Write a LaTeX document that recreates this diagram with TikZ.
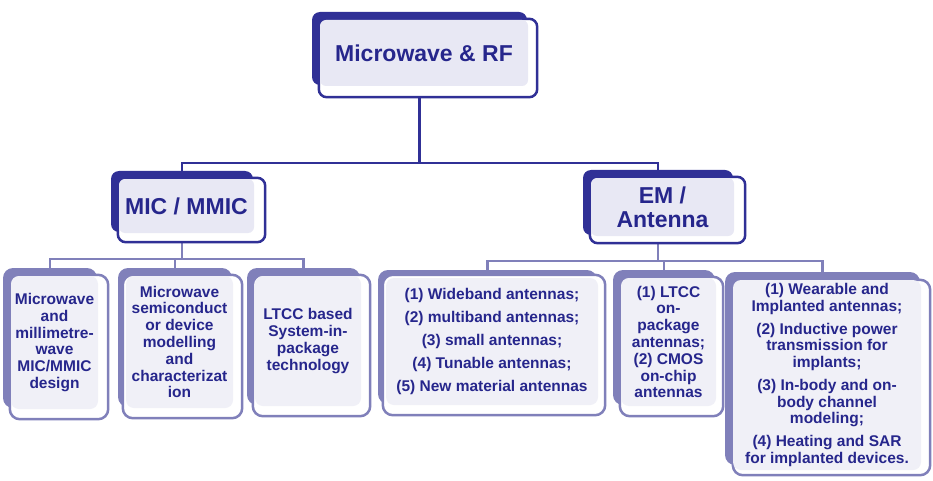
\documentclass[tikz,border=0pt]{standalone}
\usepackage{fontspec}
\setmainfont{Liberation Sans}
\usepackage{tikz}
\usetikzlibrary{backgrounds}
\definecolor{mwdark}{RGB}{48,48,150}
\definecolor{mwlight}{RGB}{128,128,186}
\definecolor{mwpale}{RGB}{232,232,244}
\definecolor{mwpaler}{RGB}{240,240,247}
\definecolor{mwtext}{RGB}{38,38,140}
\tikzstyle{topback} = [fill=mwdark, rounded corners=8pt, inner sep=0pt]
\tikzstyle{subback} = [fill=mwlight, rounded corners=10pt, inner sep=0pt]
\tikzstyle{topfront} = [draw=mwdark, line width=2.5pt, fill=white, rounded corners=8pt]
\tikzstyle{subfront} = [draw=mwlight, line width=2.5pt, fill=white, rounded corners=10pt]
\tikzstyle{toptext} = [fill=mwpale, rounded corners=6pt, inner sep=0pt, text=mwtext, align=center, font=\fontsize{23}{24}\selectfont\bfseries]
\tikzstyle{subtext} = [fill=mwpaler, rounded corners=8pt, inner sep=0pt, text=mwtext, align=center, font=\fontsize{15.5}{16.8}\selectfont\bfseries]
\tikzstyle{toplink} = [draw=mwdark, line width=2.5pt]
\tikzstyle{sublink} = [draw=mwlight, line width=2.5pt]

\begin{document}
\begin{tikzpicture}[x=1pt,y=-1pt]
\useasboundingbox (0,0) rectangle (933,481);

% top
\node[topback, minimum width=215pt, minimum height=73pt] (rf) at (419.5,48.5) {};
\draw[topfront] ([shift={(7,7)}]rf.north west) rectangle ([shift={(10,12)}]rf.south east);
\node[toptext, minimum width=208pt, minimum height=66pt] (rf-t) at ([shift={(4.5,4.5)}]rf.center) {Microwave \& RF};

% second level
\node[topback, minimum width=142pt, minimum height=61pt] (mic) at (182,201.5) {};
\draw[topfront] ([shift={(7,7)}]mic.north west) rectangle ([shift={(12,10)}]mic.south east);
\node[toptext, minimum width=135pt, minimum height=54pt] (mic-t) at ([shift={(4.5,4.5)}]mic.center) {MIC / MMIC};

\node[topback, minimum width=150pt, minimum height=65pt] (em) at (658,202.5) {};
\draw[topfront] ([shift={(7,7)}]em.north west) rectangle ([shift={(12,8)}]em.south east);
\node[toptext, minimum width=143pt, minimum height=58pt] (em-t) at ([shift={(4.5,4.5)}]em.center) {EM /\\Antenna};

% third level
\node[subback, minimum width=94pt, minimum height=140pt] (b1) at (50,338) {};
\draw[subfront] ([shift={(7,7)}]b1.north west) rectangle ([shift={(11,11)}]b1.south east);
\node[subtext, minimum width=87pt, minimum height=133pt] (b1-t) at ([shift={(4.5,4.5)}]b1.center)
  {Microwave\\and\\millimetre-\\wave\\MIC/MMIC\\design};

\node[subback, minimum width=114pt, minimum height=139pt] (b2) at (175,337.5) {};
\draw[subfront] ([shift={(5,7)}]b2.north west) rectangle ([shift={(10,11)}]b2.south east);
\node[subtext, minimum width=107pt, minimum height=132pt] (b2-t) at ([shift={(4.5,4.5)}]b2.center)
  {Microwave\\semiconduct\\or device\\modelling\\and\\characterizat\\ion};

\node[subback, minimum width=113pt, minimum height=137pt] (b3) at (303.5,336.5) {};
\draw[subfront] ([shift={(6,7)}]b3.north west) rectangle ([shift={(10,11)}]b3.south east);
\node[subtext, minimum width=106pt, minimum height=130pt] (b3-t) at ([shift={(4.5,4.5)}]b3.center)
  {LTCC based\\System-in-\\package\\technology};

\node[subback, minimum width=219pt, minimum height=134pt] (b4) at (487.5,337) {};
\draw[subfront] ([shift={(5,5)}]b4.north west) rectangle ([shift={(8,11)}]b4.south east);
\node[subtext, minimum width=212pt, minimum height=127pt] (b4-t) at ([shift={(4.5,4.5)}]b4.center)
  {(1) Wideband antennas;\\[6.3pt](2) multiband antennas;\\[6.3pt](3) small antennas;\\[6.3pt](4) Tunable antennas;\\[6.3pt](5) New material antennas};

\node[subback, minimum width=102pt, minimum height=135pt] (b5) at (664,337.5) {};
\draw[subfront] ([shift={(7,7)}]b5.north west) rectangle ([shift={(8,11)}]b5.south east);
\node[subtext, minimum width=95pt, minimum height=128pt] (b5-t) at ([shift={(4.5,4.5)}]b5.center)
  {(1) LTCC\\on-\\package\\antennas;\\(2) CMOS\\on-chip\\antennas};

\node[subback, minimum width=195pt, minimum height=193pt] (b6) at (822.5,368.5) {};
\draw[subfront] ([shift={(8,8)}]b6.north west) rectangle ([shift={(10,10)}]b6.south east);
\node[subtext, minimum width=188pt, minimum height=190pt, font=\fontsize{15.5}{16.2}\selectfont\bfseries] (b6-t) at ([shift={(4.5,6.5)}]b6.center)
  {(1) Wearable and\\Implanted antennas;\\[7.5pt](2) Inductive power\\transmission for\\implants;\\[7.5pt](3) In-body and on-\\body channel\\modeling;\\[7.5pt](4) Heating and SAR\\for implanted devices.};

% links
\coordinate (topbus) at (419.5,163);
\coordinate (micbus) at (182,259);
\coordinate (embus) at (658,261);
\begin{scope}[on background layer]
\draw[toplink] (rf.south) -- (topbus);
\draw[toplink] (mic.north) |- (topbus) -| (em.north);
\draw[sublink] (mic.south) -- (micbus);
\draw[sublink] (b1.north) |- (micbus) -| (b3.north);
\draw[sublink] (b2.north) -- (b2.north |- micbus);
\draw[sublink] (em.south) -- (embus);
\draw[sublink] (b4.north) |- (embus) -| (b6.north);
\draw[sublink] (b5.north) -- (b5.north |- embus);
\end{scope}
\end{tikzpicture}
\end{document}
